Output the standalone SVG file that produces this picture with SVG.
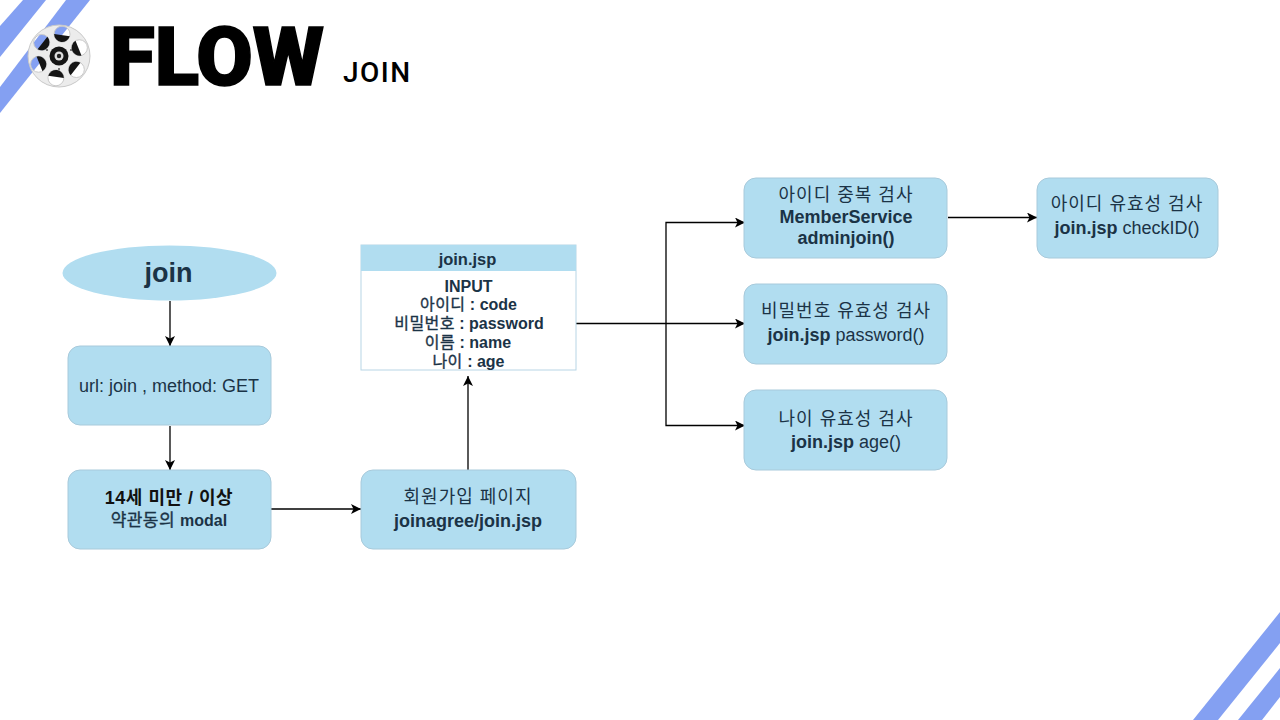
<svg xmlns="http://www.w3.org/2000/svg" width="1280" height="720" viewBox="0 0 1280 720">
<style>
text{font-family:"Liberation Sans","Noto Sans CJK KR",Arial,sans-serif;text-anchor:middle;fill:#1b3346;font-size:18px}
.n{fill:#b1ddf0;stroke:#a8cadb;stroke-width:1}
.b{font-weight:700}
.k{letter-spacing:1px;font-weight:400}
.s{font-size:16px;font-weight:700}
.kw{font-weight:400;letter-spacing:.4px;stroke:#1b3346;stroke-width:.35px}
.c{fill:none;stroke:#000;stroke-width:1.3;marker-end:url(#a)}
.st{fill:#84a0f2}
</style>
<defs><marker id="a" markerUnits="userSpaceOnUse" markerWidth="11" markerHeight="11" refX="10" refY="5" orient="auto"><path d="M0 0L10 5L0 10L2.500 5Z" fill="#000"/></marker>
<path id="seg" d="M-7.900 -21A8 8 0 0 0 7.900 -21Z" fill="#151515"/></defs>
<rect width="1280" height="720" fill="#fff"/>
<g id="stripes">
<path class="st" d="M23 0H46L0 57V26Z"/>
<path class="st" d="M66 0H90L0 113V87Z"/>
<path class="st" d="M1280 612V643L1218 720H1193Z"/>
<path class="st" d="M1280 668V697L1262 720H1238Z"/>
</g>
<g id="logo">
<path fill="#ececec" stroke="#c9c9c9" stroke-width="1" fill-rule="evenodd" d="M28 56a31 31 0 1 0 62 0a31 31 0 1 0 -62 0Z
M54.060 34.210a8 8 0 1 0 16 0a8 8 0 1 0 -16 0Z
M71.400 47.760a8 8 0 1 0 16 0a8 8 0 1 0 -16 0Z
M68.340 69.540a8 8 0 1 0 16 0a8 8 0 1 0 -16 0Z
M47.940 77.790a8 8 0 1 0 16 0a8 8 0 1 0 -16 0Z
M30.600 64.240a8 8 0 1 0 16 0a8 8 0 1 0 -16 0Z
M33.660 42.460a8 8 0 1 0 16 0a8 8 0 1 0 -16 0Z"/>
<g transform="translate(59 56)">
<use href="#seg" transform="rotate(8)"/><use href="#seg" transform="rotate(68)"/><use href="#seg" transform="rotate(128)"/><use href="#seg" transform="rotate(188)"/><use href="#seg" transform="rotate(248)"/><use href="#seg" transform="rotate(308)"/>
<g fill="#555"><circle cx="12" cy="-6" r="1"/><circle cx="-12" cy="-6" r="1"/><circle cx="0" cy="13" r="1"/></g>
<circle r="9.500" fill="#151515"/><circle r="4.500" fill="#ddd"/><circle r="2.200" fill="#222"/>
</g>
</g>
<g id="title">
<text x="110" y="85" style="text-anchor:start;font-family:Roboto,'Liberation Sans',sans-serif;font-size:82px;font-weight:900;letter-spacing:-.2px;fill:#000;stroke:#000;stroke-width:1.500px">FLOW</text>
<text x="343" y="82" style="text-anchor:start;font-family:Roboto,'Liberation Sans',sans-serif;font-size:28px;font-weight:500;letter-spacing:1.500px;fill:#000">JOIN</text>
</g>
<g id="connectors">
<path class="c" d="M170 301V346"/>
<path class="c" d="M170 426V470"/>
<path class="c" d="M271 509H361"/>
<path class="c" d="M468 470V376"/>
<path class="c" d="M576 323.500H745"/>
<path class="c" d="M666 323.500V222.500H745"/>
<path class="c" d="M666 323.500V425.500H745"/>
<path class="c" d="M948 217.500H1037"/>
</g>
<g id="join"><ellipse class="n" cx="169.500" cy="273" rx="107" ry="27.500" style="stroke:none"/><text x="168.500" y="282" class="b" style="font-size:27px">join</text></g>
<g id="get"><rect class="n" x="68" y="346" width="203" height="79" rx="12"/><text x="169" y="392">url: join , method: GET</text></g>
<g id="modal"><rect class="n" x="68" y="470" width="203" height="79" rx="12"/><text x="169" y="504" class="b" style="fill:#111;letter-spacing:.5px">14세 미만 / 이상</text><text x="169" y="526" style="font-size:17px"><tspan class="kw">약관동의 </tspan><tspan class="b" style="font-size:16px">modal</tspan></text></g>
<g id="signup"><rect class="n" x="361" y="470" width="215" height="79" rx="12"/><text x="468" y="503" class="k">회원가입 페이지</text><text x="468" y="527" class="b">joinagree/join.jsp</text></g>
<g id="joinjsp"><rect x="361" y="245" width="215" height="125" fill="#fff" stroke="#b8d5e5"/><rect x="361" y="245" width="215" height="26" fill="#b1ddf0"/><text x="467.500" y="265" class="s" style="font-size:16.500px">join.jsp</text>
<text x="468.500" y="292" class="s">INPUT</text>
<text x="468.500" y="310" class="s"><tspan class="kw">아이디</tspan> : code</text>
<text x="469" y="329" class="s"><tspan class="kw">비밀번호</tspan> : password</text>
<text x="468" y="348" class="s"><tspan class="kw">이름</tspan> : name</text>
<text x="468.500" y="367" class="s"><tspan class="kw">나이</tspan> : age</text></g>
<g id="dup"><rect class="n" x="744" y="178" width="203" height="80" rx="12"/><text x="846" y="201" class="k">아이디 중복 검사</text><text x="846" y="223" class="b">MemberService</text><text x="846" y="244" class="b">adminjoin()</text></g>
<g id="pw"><rect class="n" x="744" y="284" width="203" height="80" rx="12"/><text x="846" y="317" class="k">비밀번호 유효성 검사</text><text x="846" y="341"><tspan class="b">join.jsp</tspan> password()</text></g>
<g id="age"><rect class="n" x="744" y="390" width="203" height="80" rx="12"/><text x="846" y="425" class="k">나이 유효성 검사</text><text x="846" y="448"><tspan class="b">join.jsp</tspan> age()</text></g>
<g id="checkid"><rect class="n" x="1037" y="178" width="181" height="80" rx="12"/><text x="1127" y="210" class="k">아이디 유효성 검사</text><text x="1127" y="234"><tspan class="b">join.jsp</tspan> checkID()</text></g>
</svg>
